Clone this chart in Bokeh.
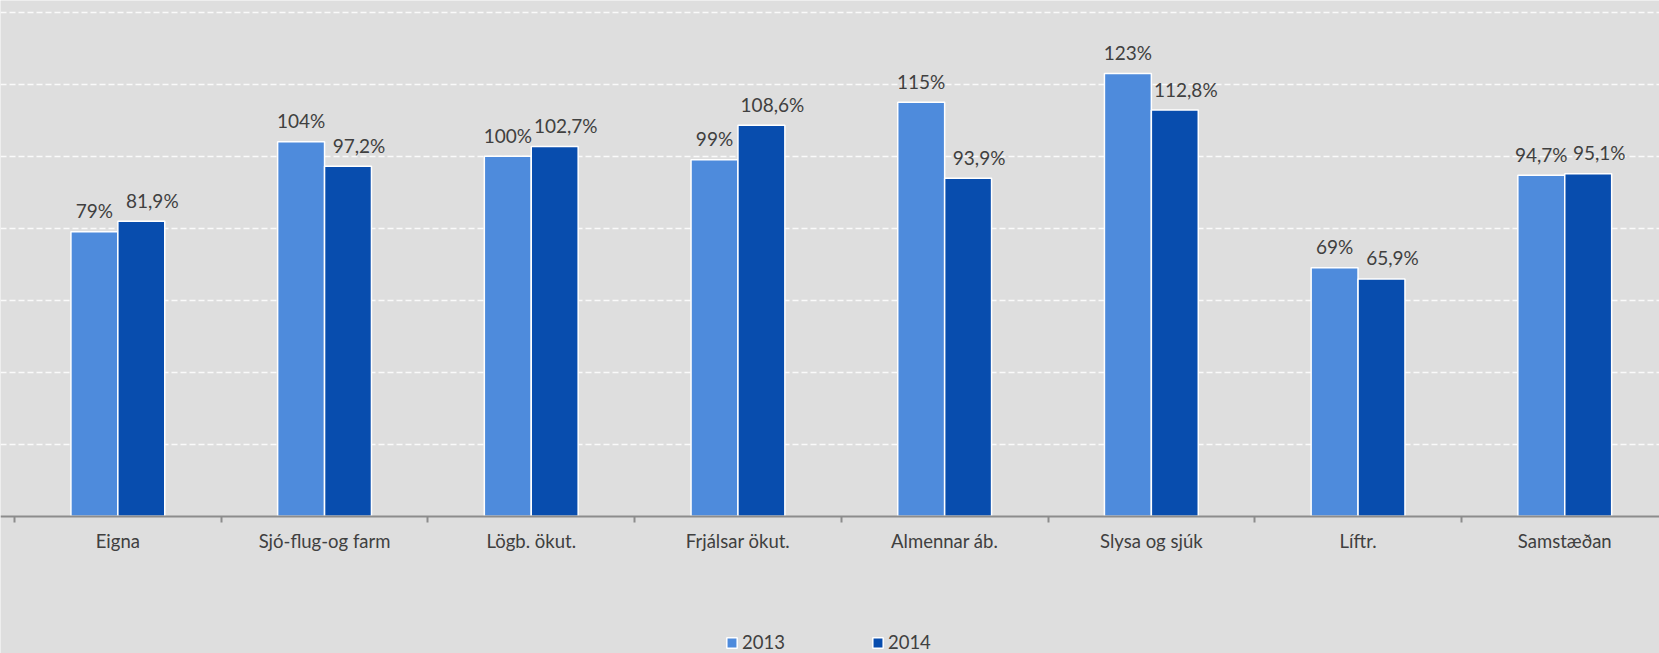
import numpy as np
from bokeh.plotting import figure
from bokeh.models import Range1d, FixedTicker, ColumnDataSource, Legend
from bokeh.core.properties import value
from bokeh.embed import file_html
from bokeh.resources import INLINE

categories = ["Eigna", "Sjó-flug-og farm", "Lögb. ökut.", "Frjálsar ökut.",
              "Almennar áb.", "Slysa og sjúk", "Líftr.", "Samstæðan"]
vals_2013 = [79, 104, 100, 99, 115, 123, 69, 94.7]
vals_2014 = [81.9, 97.2, 102.7, 108.6, 93.9, 112.8, 65.9, 95.1]
labels_2013 = ["79%", "104%", "100%", "99%", "115%", "123%", "69%", "94,7%"]
labels_2014 = ["81,9%", "97,2%", "102,7%", "108,6%", "93,9%", "112,8%", "65,9%", "95,1%"]
series_names = ["2013", "2014"]
grid_values = [20, 40, 60, 80, 100, 120, 140]

BG = "#dedede"
C13 = "#4e8bdc"
C14 = "#084dae"
TXT = "#404040"
FONT = "Lato"

cat_px = 206.7
W, H = 1659, 653
left = 14
px_per_unit = 3.6
y_top = 143.25
y_bottom = y_top - H / px_per_unit
x_start = -left / cat_px
x_end = (W - left) / cat_px

p = figure(width=W, height=H, output_backend="svg", toolbar_location=None,
           x_range=Range1d(x_start, x_end),
           y_range=Range1d(y_bottom, y_top),
           min_border_left=0, min_border_right=0, min_border_top=0,
           min_border_bottom=0)
p.background_fill_color = BG
p.border_fill_color = BG
p.outline_line_color = None

n = len(categories)
centers = np.arange(n) + 0.5
bw = 0.227
x13 = centers - bw / 2
x14 = centers + bw / 2

src13 = ColumnDataSource(dict(x=x13, top=vals_2013, lab=labels_2013))
src14 = ColumnDataSource(dict(x=x14, top=vals_2014, lab=labels_2014))

# grid
p.xgrid.visible = False
p.ygrid.ticker = FixedTicker(ticks=grid_values)
p.ygrid.grid_line_color = "#fafafa"
p.ygrid.grid_line_dash = "6 3"
p.ygrid.grid_line_width = 1.3
p.yaxis.visible = False

r13 = p.vbar(x="x", top="top", bottom=0, width=bw, source=src13, fill_color=C13,
             line_color="white", line_width=1.5)
r14 = p.vbar(x="x", top="top", bottom=0, width=bw, source=src14, fill_color=C14,
             line_color="white", line_width=1.5)

for src, xo in ((src13, 0), (src14, 11)):
    p.text(x="x", y="top", text="lab", source=src, text_align="center",
           text_baseline="alphabetic", y_offset=-21, x_offset=xo, text_color=TXT,
           text_font=value(FONT), text_font_size="19px")

# x axis drawn at the zero line
xa = p.xaxis[0]
xa.fixed_location = 0
xa.ticker = FixedTicker(ticks=list(centers), minor_ticks=list(range(n + 1)))
xa.major_label_overrides = {float(c): name for c, name in zip(centers, categories)}
xa.major_tick_out = 0
xa.major_tick_in = 0
xa.minor_tick_out = 6
xa.minor_tick_in = 0
xa.minor_tick_line_color = "#8c8c8c"
xa.minor_tick_line_width = 2
xa.axis_line_color = "#8c8c8c"
xa.axis_line_width = 2
xa.major_label_standoff = 8
xa.major_label_text_font = FONT
xa.major_label_text_font_size = "18.5px"
xa.major_label_text_color = TXT

legend = Legend(items=[(series_names[0], [r13]), (series_names[1], [r14])],
                orientation="horizontal", location=(725, 0),
                glyph_width=13, glyph_height=13, label_standoff=4, spacing=86,
                padding=0, margin=0, background_fill_alpha=0,
                border_line_alpha=0, label_text_font=FONT,
                label_text_font_size="18.5px", label_text_color=TXT)
p.add_layout(legend, "center")

open("out.html", "w").write(file_html(p, INLINE))
